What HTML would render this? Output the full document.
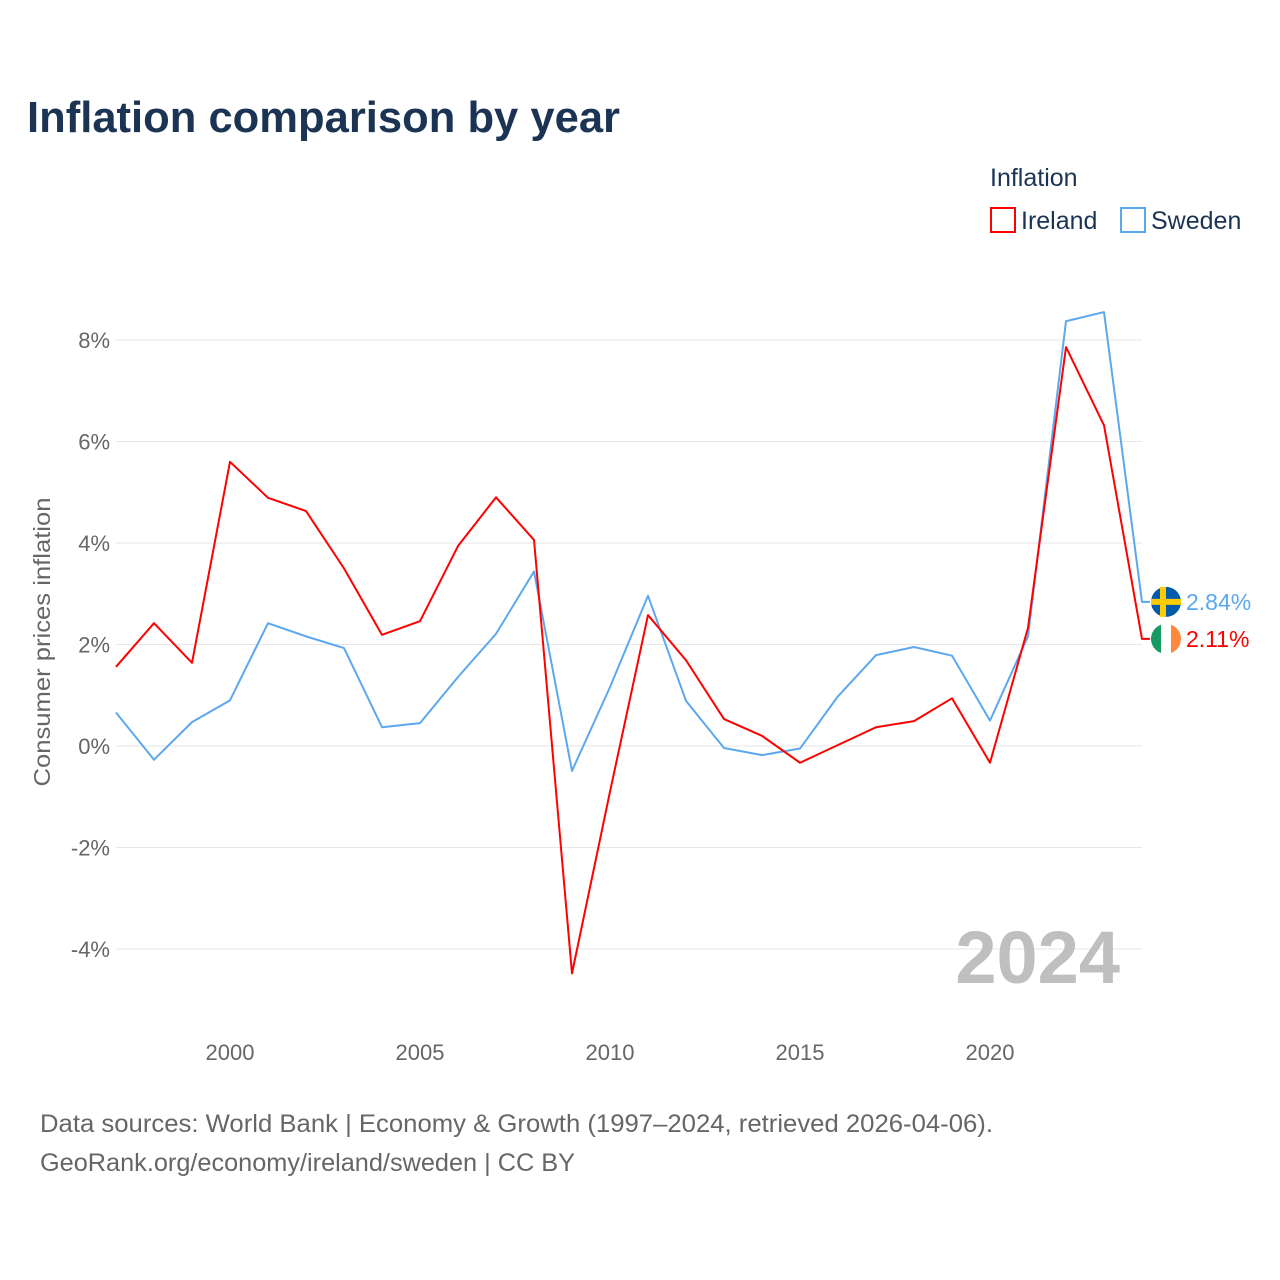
<!DOCTYPE html>
<html><head><meta charset="utf-8"><style>
body{margin:0;background:#fff;font-family:"Liberation Sans",sans-serif;}
#wrap{position:relative;width:1280px;height:1280px;overflow:hidden;}
</style></head><body>
<div id="wrap">
<svg id="chart" width="1280" height="1280" style="position:absolute;left:0;top:0">
<text x="27" y="132" font-size="44" font-weight="bold" fill="#1b3454" textLength="593" lengthAdjust="spacingAndGlyphs">Inflation comparison by year</text>
<text x="990" y="186" font-size="25" fill="#1b3454">Inflation</text>
<g><rect x="991" y="208" width="24" height="24" fill="none" stroke="#ff0000" stroke-width="2"/><text x="1021" y="229" font-size="25" fill="#1b3454">Ireland</text></g>
<g><rect x="1121" y="208" width="24" height="24" fill="none" stroke="#5ca8ee" stroke-width="2"/><text x="1151" y="229" font-size="25" fill="#1b3454">Sweden</text></g>
<text transform="translate(50,642) rotate(-90)" text-anchor="middle" font-size="23" fill="#666" textLength="289" lengthAdjust="spacingAndGlyphs">Consumer prices inflation</text>
<g id="grid"></g><g id="xt"></g><g id="lines"></g>
<text x="1120" y="983" text-anchor="end" font-size="74" font-weight="bold" fill="#bfbfbf">2024</text>
<text x="40" y="1132" font-size="25" fill="#666" textLength="953" lengthAdjust="spacingAndGlyphs">Data sources: World Bank | Economy &amp; Growth (1997–2024, retrieved 2026-04-06).</text>
<text x="40" y="1171" font-size="25" fill="#666" textLength="535" lengthAdjust="spacingAndGlyphs">GeoRank.org/economy/ireland/sweden | CC BY</text>
</svg>
</div>
<script>
const years=[1997,1998,1999,2000,2001,2002,2003,2004,2005,2006,2007,2008,2009,2010,2011,2012,2013,2014,2015,2016,2017,2018,2019,2020,2021,2022,2023,2024];
const ireland=[1.56,2.42,1.64,5.6,4.89,4.63,3.5,2.19,2.46,3.94,4.9,4.06,-4.48,-0.9,2.58,1.69,0.53,0.2,-0.33,0.02,0.37,0.49,0.94,-0.33,2.33,7.86,6.32,2.11];
const sweden=[0.66,-0.27,0.47,0.9,2.42,2.16,1.93,0.37,0.45,1.36,2.21,3.44,-0.49,1.16,2.96,0.89,-0.04,-0.18,-0.05,0.98,1.79,1.95,1.78,0.5,2.16,8.37,8.55,2.84];
const yTicks=[-4,-2,0,2,4,6,8];
const xTicks=[2000,2005,2010,2015,2020];
const NS="http://www.w3.org/2000/svg";
const X=y=>116+(y-1997)*38;
const Y=v=>746-v*50.75;
function mk(t,a,p){const e=document.createElementNS(NS,t);for(const k in a)e.setAttribute(k,a[k]);p.appendChild(e);return e;}
const grid=document.getElementById('grid');
yTicks.forEach(v=>{
 const l=mk('line',{x1:116,x2:1142,y1:Y(v),y2:Y(v),stroke:'#e6e6e6','stroke-width':1},grid);
 
 
 const t=mk('text',{x:110,y:Y(v)+8,'text-anchor':'end','font-size':22,fill:'#666'},grid);
 t.textContent=v+'%';
 
 
});
const xt=document.getElementById('xt');
xTicks.forEach(v=>{
 const t=mk('text',{x:X(v),y:1060,'text-anchor':'middle','font-size':22,fill:'#666'},xt);
 t.textContent=v;
 
 
});
const lines=document.getElementById('lines');
function series(vals,col,name){
 let d=vals.map((v,i)=>(i?'L':'M')+X(years[i])+','+Y(v)).join(' ');
 d+=' L1150,'+Y(vals[vals.length-1]);
 const p=mk('path',{d:d,fill:'none',stroke:col,'stroke-width':2,'stroke-linejoin':'round'},lines);
 
 
 const last=vals[vals.length-1];
 const t=mk('text',{x:1186,y:Y(last)+8,'font-size':23,fill:col},lines);
 t.textContent=last.toFixed(2)+'%';
 
 
 return Y(last);
}
const ys=series(sweden,'#5ca8ee','sweden');
const yi=series(ireland,'#ff0000','ireland');
const fs=mk('g',{},lines);


mk('circle',{cx:1166,cy:ys,r:15,fill:'#005ba8'},fs);
mk('rect',{x:1151,y:ys-3,width:30,height:6,fill:'#fecc00'},fs);
mk('rect',{x:1160,y:ys-15,width:6,height:30,fill:'#fecc00'},fs);
const fi=mk('g',{},lines);


mk('clipPath',{id:'ck'},fi);
mk('circle',{cx:1166,cy:yi,r:15},document.getElementById('ck'));
mk('rect',{x:1151,y:yi-15,width:10,height:30,fill:'#169b62','clip-path':'url(#ck)'},fi);
mk('rect',{x:1161,y:yi-15,width:10,height:30,fill:'#ffffff','clip-path':'url(#ck)'},fi);
mk('rect',{x:1171,y:yi-15,width:10,height:30,fill:'#ff883e','clip-path':'url(#ck)'},fi);
</script>
</body></html>
